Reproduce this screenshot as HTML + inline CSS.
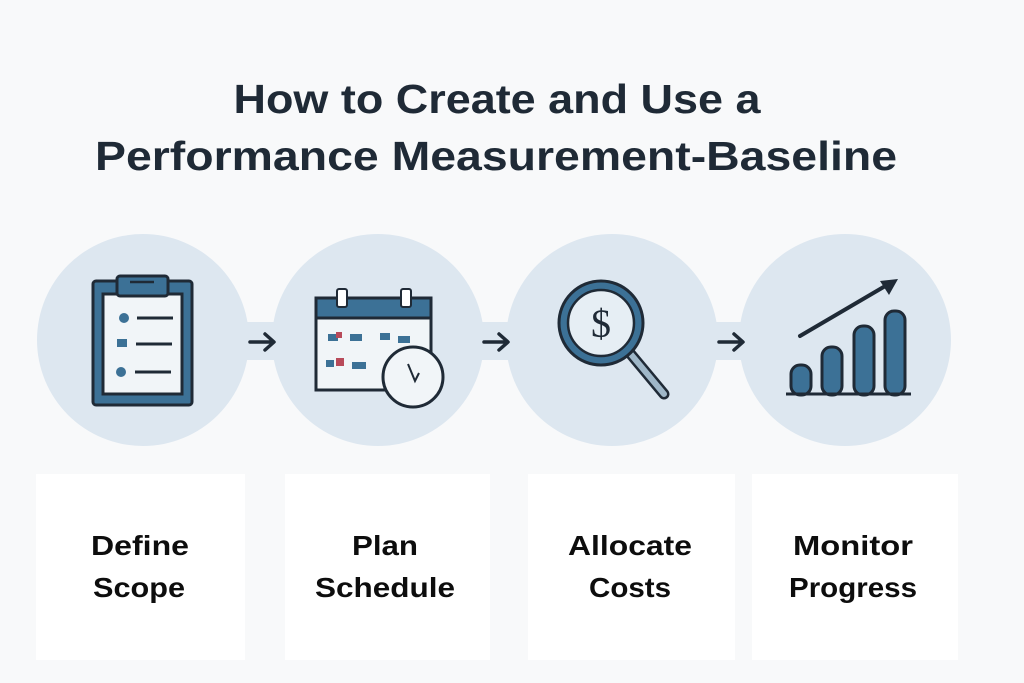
<!DOCTYPE html>
<html><head><meta charset="utf-8"><style>
html,body{margin:0;padding:0;background:#f8f9fa;}
svg{display:block;}
</style></head><body>
<svg width="1024" height="683" viewBox="0 0 1024 683" xmlns="http://www.w3.org/2000/svg">
<rect width="1024" height="683" fill="#f8f9fa"/>
<g font-family="'Liberation Sans', sans-serif" font-weight="bold" fill="#1f2a36" text-anchor="middle">
<text x="497" y="113" font-size="41" textLength="527" lengthAdjust="spacingAndGlyphs">How to Create and Use a</text>
<text x="496" y="170" font-size="41" textLength="802" lengthAdjust="spacingAndGlyphs">Performance Measurement-Baseline</text>
</g>
<!-- blobs -->
<g fill="#dde7f0">
<circle cx="143" cy="340" r="106"/>
<circle cx="378" cy="340" r="106"/>
<circle cx="612" cy="340" r="106"/>
<circle cx="845" cy="340" r="106"/>
<rect x="230" y="322" width="60" height="38"/>
<rect x="465" y="322" width="60" height="38"/>
<rect x="700" y="322" width="60" height="38"/>
</g>
<!-- arrows -->
<g stroke="#1f2a36" stroke-width="3.5" fill="none" stroke-linecap="round" stroke-linejoin="round">
<path d="M250 342 H273 M265 334 L274 342 L265 350"/>
<path d="M484 342 H507 M499 334 L508 342 L499 350"/>
<path d="M719 342 H742 M734 334 L743 342 L734 350"/>
</g>
<!-- clipboard -->
<g stroke="#1f2a36" stroke-width="3">
<rect x="93" y="281" width="99" height="124" rx="3" fill="#3c7196"/>
<rect x="103" y="294" width="79" height="100" fill="#f1f5f8"/>
<rect x="117" y="276" width="51" height="20" rx="3" fill="#3c7196"/>
<line x1="130" y1="282" x2="154" y2="282" stroke-width="2.5"/>
<line x1="137" y1="318" x2="173" y2="318"/>
<line x1="136" y1="344" x2="172" y2="344"/>
<line x1="135" y1="372" x2="171" y2="372"/>
</g>
<g fill="#3c7196"><circle cx="124" cy="318" r="5"/><rect x="117" y="339" width="10" height="8"/><circle cx="121" cy="372" r="5"/></g>
<!-- calendar -->
<g stroke="#1f2a36" stroke-width="3">
<rect x="316" y="298" width="115" height="92" fill="#f1f5f8"/>
<rect x="316" y="298" width="115" height="20" fill="#3c7196"/>
<rect x="337" y="289" width="10" height="18" rx="2" fill="#fff" stroke-width="2"/>
<rect x="401" y="289" width="10" height="18" rx="2" fill="#fff" stroke-width="2"/>
</g>
<g fill="#3c7196"><rect x="328" y="334" width="10" height="7"/><rect x="350" y="334" width="12" height="7"/><rect x="380" y="333" width="10" height="7"/><rect x="398" y="336" width="12" height="7"/><rect x="352" y="362" width="14" height="7"/><rect x="326" y="360" width="8" height="7"/></g>
<g fill="#b84a5a"><rect x="336" y="332" width="6" height="6"/><rect x="336" y="358" width="8" height="8"/></g>
<circle cx="413" cy="377" r="30" fill="#f1f5f8" stroke="#1f2a36" stroke-width="3"/>
<path d="M408 364 L415 381 L419 373" stroke="#1f2a36" stroke-width="2" fill="none"/>
<!-- magnifier -->
<line x1="629" y1="352" x2="664" y2="394" stroke="#1f2a36" stroke-width="11" stroke-linecap="round"/>
<line x1="629" y1="352" x2="664" y2="394" stroke="#9fb7c8" stroke-width="6" stroke-linecap="round"/>
<circle cx="601" cy="323" r="42" fill="#3c7196" stroke="#1f2a36" stroke-width="3"/>
<circle cx="601" cy="323" r="33" fill="#e6eef4" stroke="#1f2a36" stroke-width="2.5"/>
<text x="601" y="337" font-family="'Liberation Serif', serif" font-size="40" fill="#1f2a36" text-anchor="middle">$</text>
<!-- chart -->
<g stroke="#1f2a36" stroke-width="3" fill="#3c7196">
<rect x="791" y="365" width="20" height="30" rx="9"/>
<rect x="822" y="347" width="20" height="48" rx="9"/>
<rect x="854" y="326" width="20" height="69" rx="9"/>
<rect x="885" y="311" width="20" height="84" rx="9"/>
</g>
<line x1="786" y1="394" x2="911" y2="394" stroke="#1f2a36" stroke-width="3"/>
<line x1="800" y1="336" x2="887" y2="285" stroke="#1f2a36" stroke-width="4" stroke-linecap="round"/>
<path d="M898 279 L880 281 L889 295 Z" fill="#1f2a36"/>
<!-- label boxes -->
<g fill="#ffffff">
<rect x="36" y="474" width="209" height="186"/>
<rect x="285" y="474" width="205" height="186"/>
<rect x="528" y="474" width="207" height="186"/>
<rect x="752" y="474" width="206" height="186"/>
</g>
<g font-family="'Liberation Sans', sans-serif" font-weight="bold" font-size="28" fill="#0d0d0d" text-anchor="middle">
<text x="140" y="555" textLength="98" lengthAdjust="spacingAndGlyphs">Define</text>
<text x="139" y="597" textLength="92" lengthAdjust="spacingAndGlyphs">Scope</text>
<text x="385" y="555" textLength="66" lengthAdjust="spacingAndGlyphs">Plan</text>
<text x="385" y="597" textLength="140" lengthAdjust="spacingAndGlyphs">Schedule</text>
<text x="630" y="555" textLength="124" lengthAdjust="spacingAndGlyphs">Allocate</text>
<text x="630" y="597" textLength="82" lengthAdjust="spacingAndGlyphs">Costs</text>
<text x="853" y="555" textLength="120" lengthAdjust="spacingAndGlyphs">Monitor</text>
<text x="853" y="597" textLength="128" lengthAdjust="spacingAndGlyphs">Progress</text>
</g>
</svg>
</body></html>
